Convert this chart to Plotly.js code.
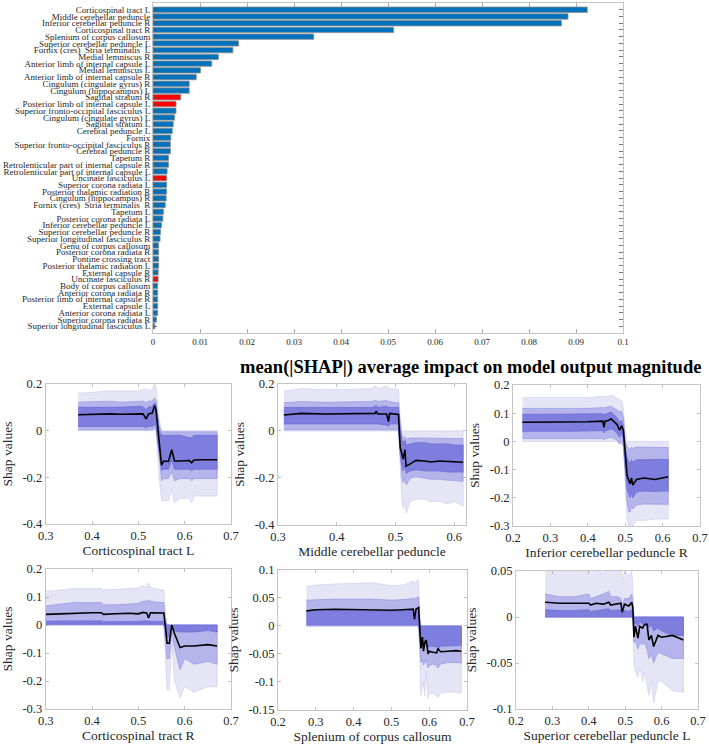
<!DOCTYPE html>
<html>
<head>
<meta charset="utf-8">
<script src="https://cdn.plot.ly/plotly-3.0.1.min.js"></script>
<style>html,body{margin:0;padding:0;background:#fff;}#chart{width:709px;height:744px;}</style>
</head>
<body>
<div id="chart"></div>
<script>
// ---------- Bar chart data ----------
const categories = [
  "Corticospinal tract L","Middle cerebellar peduncle","Inferior cerebellar peduncle R","Corticospinal tract R",
  "Splenium of corpus callosum","Superior cerebellar peduncle L","Fornix (cres)  Stria terminalis  L","Medial lemniscus R",
  "Anterior limb of internal capsule L","Medial lemniscus L","Anterior limb of internal capsule R","Cingulum (cingulate gyrus) R",
  "Cingulum (hippocampus) L","Sagittal stratum R","Posterior limb of internal capsule L","Superior fronto-occipital fasciculus L",
  "Cingulum (cingulate gyrus) L","Sagittal stratum L","Cerebral peduncle L","Fornix",
  "Superior fronto-occipital fasciculus R","Cerebral peduncle R","Tapetum R","Retrolenticular part of internal capsule R",
  "Retrolenticular part of internal capsule L","Uncinate fasciculus L","Superior corona radiata L","Posterior thalamic radiation R",
  "Cingulum (hippocampus) R","Fornix (cres)  Stria terminalis  R","Tapetum L","Posterior corona radiata L",
  "Inferior cerebellar peduncle L","Superior cerebellar peduncle R","Superior longitudinal fasciculus R","Genu of corpus callosum",
  "Posterior corona radiata R","Pontine crossing tract","Posterior thalamic radiation L","External capsule R",
  "Uncinate fasciculus R","Body of corpus callosum","Anterior corona radiata R","Posterior limb of internal capsule R",
  "External capsule L","Anterior corona radiata L","Superior corona radiata R","Superior longitudinal fasciculus L"
];
const meanAbsShap = [
  0.0924,0.0883,0.0869,0.0512,0.0342,0.0182,0.0170,0.0139,
  0.0125,0.0101,0.0092,0.0077,0.0077,0.0059,0.0049,0.0049,
  0.0046,0.0043,0.0041,0.0038,0.0037,0.0037,0.0033,0.0033,
  0.0030,0.0029,0.0029,0.0029,0.0028,0.0026,0.0022,0.0021,
  0.0018,0.0016,0.0015,0.0012,0.0012,0.0012,0.0012,0.0011,
  0.0011,0.0010,0.0010,0.0010,0.0010,0.0010,0.0007,0.0004
];
const highlighted = ["Sagittal stratum R","Posterior limb of internal capsule L","Uncinate fasciculus L","Uncinate fasciculus R"];
const barTicks = [0,0.01,0.02,0.03,0.04,0.05,0.06,0.07,0.08,0.09,0.1];
const mainTitle = "mean(|SHAP|) average impact on model output magnitude";

// ---------- Panel 1: Corticospinal tract L ----------
const p1Label = "Corticospinal tract L";
const p1X = [0.37,0.40,0.44,0.46,0.50,0.51,0.517,0.522,0.53,0.535,0.538,0.545,0.55,0.555,0.565,0.572,0.578,0.59,0.61,0.615,0.62,0.64,0.67];
const p1Mean = [0.068,0.070,0.072,0.070,0.074,0.072,0.050,0.072,0.075,0.108,0.090,-0.050,-0.148,-0.130,-0.132,-0.082,-0.130,-0.130,-0.128,-0.138,-0.126,-0.125,-0.125];
const p1LightHi = [0.160,0.165,0.170,0.170,0.170,0.175,0.180,0.170,0.175,0.200,0.190,0.050,0,0,0,0,0,0,0,0,0,0,0];
const p1LightLo = [0,0,0,0,0,0,0,0,0,0,0,-0.200,-0.300,-0.300,-0.300,-0.250,-0.310,-0.290,-0.290,-0.310,-0.280,-0.280,-0.280];
const p1MidHi = [0.122,0.124,0.126,0.122,0.126,0.126,0.120,0.126,0.126,0.140,0.130,0.020,-0.005,-0.005,-0.005,-0.005,-0.005,-0.005,-0.008,-0.008,-0.005,-0.005,-0.005];
const p1MidLo = [0.004,0.004,0.004,0.004,0.004,0.004,0.002,0.004,0.004,0.010,0.008,-0.100,-0.215,-0.205,-0.205,-0.175,-0.215,-0.205,-0.205,-0.215,-0.205,-0.205,-0.205];
const p1DarkHi = [0.100,0.100,0.102,0.100,0.105,0.102,0.090,0.102,0.102,0.120,0.110,0,-0.020,-0.020,-0.020,-0.020,-0.020,-0.020,-0.030,-0.030,-0.020,-0.020,-0.020];
const p1DarkLo = [0.018,0.018,0.018,0.015,0.018,0.018,0.012,0.018,0.018,0.025,0.022,-0.100,-0.170,-0.165,-0.165,-0.125,-0.165,-0.165,-0.165,-0.172,-0.165,-0.165,-0.165];

// ---------- Panel 2: Middle cerebellar peduncle ----------
const p2Label = "Middle cerebellar peduncle";
const p2X = [0.31,0.34,0.38,0.42,0.46,0.465,0.467,0.47,0.485,0.488,0.49,0.50,0.505,0.508,0.511,0.513,0.516,0.518,0.525,0.535,0.55,0.56,0.575,0.59,0.60,0.615];
const p2Mean = [0.068,0.075,0.072,0.072,0.072,0.075,0.082,0.072,0.072,0.040,0.075,0.070,0.070,-0.070,-0.100,-0.120,-0.080,-0.150,-0.140,-0.125,-0.128,-0.132,-0.128,-0.130,-0.132,-0.133];
const p2LightHi = [0.170,0.180,0.175,0.178,0.180,0.190,0.190,0.180,0.190,0.185,0.180,0.180,0.175,0.050,0,0,0,0,0,0,0,0,0,0,0,0];
const p2LightLo = [0,0,0,0,0,0,0,0,0,0,0,0,0,-0.150,-0.300,-0.330,-0.300,-0.350,-0.300,-0.290,-0.290,-0.300,-0.300,-0.310,-0.300,-0.320];
const p2MidHi = [0.120,0.125,0.122,0.122,0.125,0.130,0.130,0.125,0.130,0.125,0.125,0.120,0.120,0.030,-0.020,-0.030,-0.025,-0.035,-0.030,-0.030,-0.030,-0.030,-0.030,-0.030,-0.032,-0.032];
const p2MidLo = [0.005,0.005,0.005,0.005,0.005,0.005,0.005,0.005,0.005,0.002,0.005,0.005,0.005,-0.100,-0.200,-0.220,-0.200,-0.230,-0.200,-0.195,-0.200,-0.205,-0.205,-0.210,-0.210,-0.215];
const p2DarkHi = [0.100,0.100,0.100,0.100,0.100,0.105,0.110,0.100,0.105,0.100,0.100,0.100,0.100,0.010,-0.040,-0.050,-0.040,-0.060,-0.055,-0.050,-0.050,-0.055,-0.055,-0.055,-0.060,-0.060];
const p2DarkLo = [0.030,0.030,0.030,0.030,0.030,0.030,0.030,0.030,0.025,0.020,0.030,0.030,0.030,-0.100,-0.150,-0.170,-0.150,-0.180,-0.170,-0.165,-0.170,-0.170,-0.170,-0.175,-0.175,-0.175];

// ---------- Panel 3: Inferior cerebellar peduncle R ----------
const p3Label = "Inferior cerebellar peduncle R";
const p3X = [0.225,0.26,0.30,0.35,0.40,0.44,0.443,0.446,0.455,0.462,0.47,0.478,0.485,0.49,0.495,0.50,0.505,0.51,0.513,0.517,0.52,0.53,0.55,0.58,0.60,0.615];
const p3Mean = [0.068,0.068,0.069,0.070,0.070,0.072,0.050,0.072,0.074,0.080,0.070,0.060,0.040,0.055,0.040,-0.050,-0.120,-0.140,-0.150,-0.130,-0.155,-0.135,-0.130,-0.135,-0.128,-0.125];
const p3LightHi = [0.155,0.155,0.155,0.155,0.155,0.160,0.160,0.160,0.160,0.165,0.160,0.155,0.150,0.145,0.120,0.030,0,0,0,0,0,0,0,0,0,0];
const p3LightLo = [0,0,0,0,0,0,0,0,0,0,0,0,0,0,0,-0.150,-0.280,-0.300,-0.300,-0.290,-0.300,-0.280,-0.280,-0.275,-0.275,-0.275];
const p3MidHi = [0.117,0.117,0.117,0.117,0.117,0.120,0.118,0.120,0.122,0.125,0.118,0.112,0.105,0.108,0.085,0.000,-0.020,-0.025,-0.030,-0.020,-0.025,-0.020,-0.020,-0.022,-0.022,-0.022];
const p3MidLo = [0.010,0.010,0.010,0.010,0.010,0.010,0.005,0.010,0.012,0.015,0.010,0.005,-0.010,0.000,-0.020,-0.110,-0.220,-0.250,-0.250,-0.230,-0.240,-0.225,-0.222,-0.223,-0.223,-0.223];
const p3DarkHi = [0.096,0.096,0.096,0.096,0.096,0.098,0.090,0.098,0.100,0.105,0.095,0.085,0.065,0.075,0.055,-0.020,-0.060,-0.070,-0.080,-0.065,-0.075,-0.065,-0.064,-0.064,-0.064,-0.064];
const p3DarkLo = [0.036,0.036,0.036,0.036,0.036,0.038,0.030,0.038,0.040,0.045,0.040,0.030,0.015,0.030,0.010,-0.090,-0.170,-0.190,-0.200,-0.180,-0.200,-0.180,-0.176,-0.178,-0.176,-0.176];

// ---------- Panel 4: Corticospinal tract R ----------
const p4Label = "Corticospinal tract R";
const p4X = [0.30,0.33,0.36,0.40,0.42,0.425,0.45,0.48,0.50,0.51,0.518,0.522,0.526,0.535,0.545,0.555,0.558,0.562,0.567,0.572,0.578,0.59,0.60,0.62,0.65,0.67];
const p4Mean = [0.038,0.040,0.043,0.044,0.044,0.038,0.040,0.042,0.040,0.045,0.043,0.025,0.044,0.044,0.043,0.043,0.000,-0.065,-0.065,0.000,-0.030,-0.080,-0.075,-0.075,-0.070,-0.075];
const p4LightHi = [0.120,0.125,0.130,0.130,0.130,0.125,0.128,0.130,0.132,0.140,0.135,0.150,0.135,0.130,0.128,0.125,0.050,0,0,0,0,0,0,0,0,0];
const p4LightLo = [0,0,0,0,0,0,0,0,0,0,0,0,0,0,0,0,-0.100,-0.230,-0.230,-0.050,-0.200,-0.260,-0.220,-0.240,-0.220,-0.220];
const p4MidHi = [0.068,0.075,0.080,0.080,0.080,0.072,0.072,0.075,0.078,0.085,0.085,0.090,0.085,0.082,0.080,0.080,0.020,0,0,0,0,0,0,0,0,0];
const p4MidLo = [0,0,0,0,0,0,0,0,0,0,0,0,0,0,0,0,-0.050,-0.120,-0.120,-0.020,-0.080,-0.160,-0.120,-0.140,-0.130,-0.140];
const p4DarkHi = [0.014,0.014,0.015,0.015,0.015,0.012,0.012,0.012,0.013,0.015,0.014,0.012,0.014,0.013,0.013,0.013,0,0,0,0,0,0,0,0,0,0];
const p4DarkLo = [0.003,0.003,0.003,0.003,0.003,0.003,0.003,0.003,0.003,0.003,0.003,0.003,0.003,0.003,0.003,0.003,-0.010,-0.040,-0.040,-0.005,-0.020,-0.025,-0.025,-0.025,-0.020,-0.025];

// ---------- Panel 5: Splenium of corpus callosum ----------
const p5Label = "Splenium of corpus callosum";
const p5X = [0.275,0.30,0.35,0.40,0.45,0.50,0.53,0.55,0.558,0.561,0.565,0.572,0.575,0.578,0.582,0.585,0.588,0.592,0.597,0.60,0.61,0.62,0.623,0.63,0.65,0.67,0.685];
const p5Mean = [0.027,0.029,0.030,0.029,0.029,0.028,0.029,0.030,0.030,0.012,0.030,0.033,0.000,-0.040,-0.020,-0.045,-0.030,-0.025,-0.050,-0.045,-0.047,-0.048,-0.040,-0.046,-0.045,-0.044,-0.045];
const p5LightHi = [0.070,0.073,0.075,0.076,0.077,0.072,0.073,0.078,0.080,0.075,0.080,0.082,0.020,0,0,0,0,0,0,0,0,0,0,0,0,0,0];
const p5LightLo = [0,0,0,0,0,0,0,0,0,0,0,0,-0.060,-0.125,-0.110,-0.100,-0.125,-0.080,-0.130,-0.120,-0.120,-0.125,-0.128,-0.120,-0.118,-0.118,-0.120];
const p5MidHi = [0.046,0.047,0.048,0.048,0.048,0.046,0.047,0.048,0.050,0.048,0.050,0.052,0.010,0,0,0,0,0,0,0,0,0,0,0,0,0,0];
const p5MidLo = [0,0,0,0,0,0,0,0,0,0,0,0,-0.030,-0.065,-0.060,-0.070,-0.065,-0.060,-0.075,-0.070,-0.068,-0.070,-0.075,-0.068,-0.065,-0.065,-0.066];
const p5DarkHi = [0.027,0.028,0.028,0.027,0.027,0.026,0.027,0.028,0.028,0.015,0.028,0.030,0,0,0,0,0,0,0,0,0,0,0,0,0,0,0];
const p5DarkLo = [0.002,0.002,0.002,0.002,0.002,0.002,0.002,0.002,0.002,0.002,0.002,0.002,-0.015,-0.035,-0.030,-0.040,-0.035,-0.030,-0.040,-0.036,-0.036,-0.038,-0.040,-0.036,-0.035,-0.035,-0.035];

// ---------- Panel 6: Superior cerebellar peduncle L ----------
const p6Label = "Superior cerebellar peduncle L";
const p6X = [0.28,0.32,0.36,0.40,0.405,0.42,0.44,0.455,0.46,0.48,0.488,0.492,0.498,0.51,0.518,0.521,0.524,0.528,0.535,0.54,0.548,0.553,0.56,0.565,0.572,0.578,0.59,0.60,0.63,0.66];
const p6Mean = [0.016,0.015,0.015,0.015,0.013,0.015,0.014,0.016,0.013,0.015,0.015,0.005,0.014,0.012,0.016,0.010,-0.022,-0.010,-0.023,-0.010,-0.012,-0.008,-0.008,-0.025,-0.020,-0.032,-0.020,-0.022,-0.020,-0.025];
const p6LightHi = [0.056,0.053,0.052,0.050,0.052,0.050,0.048,0.053,0.050,0.052,0.053,0.040,0.050,0.045,0.050,0.030,0,0,0,0,0,0,0,0,0,0,0,0,0,0];
const p6LightLo = [0,0,0,0,0,0,0,0,0,0,0,0,0,0,0,0,-0.050,-0.060,-0.065,-0.055,-0.070,-0.060,-0.075,-0.085,-0.070,-0.093,-0.070,-0.070,-0.080,-0.082];
const p6MidHi = [0.025,0.022,0.022,0.025,0.020,0.022,0.025,0.028,0.022,0.022,0.020,0.012,0.020,0.020,0.025,0.015,0,0,0,0,0,0,0,0,0,0,0,0,0,0];
const p6MidLo = [0,0,0,0,0,0,0,0,0,0,0,0,0,0,0,0,-0.028,-0.025,-0.035,-0.028,-0.030,-0.028,-0.035,-0.045,-0.040,-0.050,-0.038,-0.040,-0.045,-0.045];
const p6DarkHi = [0.008,0.007,0.007,0.008,0.006,0.007,0.008,0.009,0.007,0.008,0.008,0.002,0.007,0.006,0.008,0.005,0,0,0,0,0,0,0,0,0,0,0,0,0,0];
const p6DarkLo = [0,0,0,0,0,0,0,0,0,0,0,0,0,0,0,0,-0.008,-0.006,-0.010,-0.005,-0.008,-0.005,-0.010,-0.012,-0.008,-0.015,-0.012,-0.015,-0.020,-0.020];

// ---------- Panel axis ticks ----------
const p1XTicks = [0.3,0.4,0.5,0.6,0.7], p1YTicks = [-0.4,-0.2,0,0.2];
const p2XTicks = [0.3,0.4,0.5,0.6],     p2YTicks = [-0.4,-0.2,0,0.2];
const p3XTicks = [0.2,0.3,0.4,0.5,0.6,0.7], p3YTicks = [-0.3,-0.2,-0.1,0,0.1,0.2];
const p4XTicks = [0.3,0.4,0.5,0.6,0.7], p4YTicks = [-0.3,-0.2,-0.1,0,0.1,0.2];
const p5XTicks = [0.2,0.3,0.4,0.5,0.6,0.7], p5YTicks = [-0.15,-0.1,-0.05,0,0.05,0.1];
const p6XTicks = [0.2,0.3,0.4,0.5,0.6,0.7], p6YTicks = [-0.1,-0.05,0,0.05];

// ---------- Build figure ----------
const SERIF = "Liberation Serif, Times New Roman, serif";
const TXT = "#262626";
const FRAME = "#c4c4c4";
const traces = [];

traces.push({
  type: "bar", orientation: "h",
  x: meanAbsShap,
  y: categories.map((c, i) => i),
  width: 0.8,
  marker: {
    color: categories.map(c => highlighted.includes(c) ? "#ff0000" : "#0072bd"),
    line: {color: "#8c8c8c", width: 0.8}
  },
  hoverinfo: "skip", xaxis: "x", yaxis: "y"
});

function band(x, lo, hi, fill, edge, ax) {
  return {
    type: "scatter", mode: "lines",
    x: x.concat(x.slice().reverse()),
    y: hi.concat(lo.slice().reverse()),
    fill: "toself", fillcolor: fill,
    line: {color: edge, width: 0.7},
    hoverinfo: "skip", xaxis: "x" + ax, yaxis: "y" + ax
  };
}

const panels = [
  {ax: 2, x: p1X, m: p1Mean, lL: p1LightLo, lH: p1LightHi, mL: p1MidLo, mH: p1MidHi, dL: p1DarkLo, dH: p1DarkHi, label: p1Label, xt: p1XTicks, yt: p1YTicks, xr: [0.3,0.7], yr: [-0.4,0.2], xd: [0.0645,0.3258], yd: [0.2957,0.4839]},
  {ax: 3, x: p2X, m: p2Mean, lL: p2LightLo, lH: p2LightHi, mL: p2MidLo, mH: p2MidHi, dL: p2DarkLo, dH: p2DarkHi, label: p2Label, xt: p2XTicks, yt: p2YTicks, xr: [0.3,0.62], yr: [-0.4,0.2], xd: [0.3921,0.6573], yd: [0.2944,0.4839]},
  {ax: 4, x: p3X, m: p3Mean, lL: p3LightLo, lH: p3LightHi, mL: p3MidLo, mH: p3MidHi, dL: p3DarkLo, dH: p3DarkHi, label: p3Label, xt: p3XTicks, yt: p3YTicks, xr: [0.2,0.7], yr: [-0.3,0.2], xd: [0.7236,0.9873], yd: [0.2930,0.4825]},
  {ax: 5, x: p4X, m: p4Mean, lL: p4LightLo, lH: p4LightHi, mL: p4MidLo, mH: p4MidHi, dL: p4DarkLo, dH: p4DarkHi, label: p4Label, xt: p4XTicks, yt: p4YTicks, xr: [0.3,0.7], yr: [-0.3,0.2], xd: [0.0645,0.3258], yd: [0.0470,0.2352]},
  {ax: 6, x: p5X, m: p5Mean, lL: p5LightLo, lH: p5LightHi, mL: p5MidLo, mH: p5MidHi, dL: p5DarkLo, dH: p5DarkHi, label: p5Label, xt: p5XTicks, yt: p5YTicks, xr: [0.2,0.7], yr: [-0.15,0.1], xd: [0.3921,0.6587], yd: [0.0457,0.2339]},
  {ax: 7, x: p6X, m: p6Mean, lL: p6LightLo, lH: p6LightHi, mL: p6MidLo, mH: p6MidHi, dL: p6DarkLo, dH: p6DarkHi, label: p6Label, xt: p6XTicks, yt: p6YTicks, xr: [0.2,0.7], yr: [-0.1,0.05], xd: [0.7278,0.9845], yd: [0.0470,0.2325]}
];

const layout = {
  width: 709, height: 744,
  margin: {l: 0, r: 0, t: 0, b: 0},
  paper_bgcolor: "#ffffff", plot_bgcolor: "#ffffff",
  showlegend: false,
  font: {family: SERIF, color: TXT},
  xaxis: {
    domain: [0.2158, 0.8787], anchor: "y", range: [0, 0.1],
    tickmode: "array", tickvals: barTicks, ticktext: barTicks.map(String),
    ticks: "inside", ticklen: 4, tickwidth: 0.8, tickcolor: "#9a9a9a",
    mirror: "allticks", showline: true, linecolor: FRAME, linewidth: 1,
    showgrid: false, zeroline: false, tickfont: {size: 9, family: SERIF, color: TXT}, automargin: false
  },
  yaxis: {
    domain: [0.5524, 0.9960], anchor: "x", range: [48, -1],
    tickmode: "array", tickvals: categories.map((c, i) => i), ticktext: categories,
    ticks: "inside", ticklen: 4, tickwidth: 0.8, tickcolor: "#555555",
    mirror: "allticks", showline: true, linecolor: FRAME, linewidth: 1,
    showgrid: false, zeroline: false, tickfont: {size: 9, family: SERIF, color: TXT}, automargin: false
  },
  annotations: [{
    text: "<b>" + mainTitle + "</b>",
    xref: "paper", yref: "paper", x: 0.663, y: 0.5067,
    xanchor: "center", yanchor: "middle", showarrow: false,
    font: {family: SERIF, size: 18.5, color: "#000000"}
  }]
};

panels.forEach(p => {
  traces.push(band(p.x, p.lL, p.lH, "rgb(229,229,245)", "rgb(208,208,238)", p.ax));
  traces.push(band(p.x, p.mL, p.mH, "rgb(181,181,236)", "rgb(150,150,228)", p.ax));
  traces.push(band(p.x, p.dL, p.dH, "rgb(126,126,222)", "rgb(105,105,215)", p.ax));
  traces.push({
    type: "scatter", mode: "lines", x: p.x, y: p.m,
    line: {color: "#000000", width: 1.6},
    hoverinfo: "skip", xaxis: "x" + p.ax, yaxis: "y" + p.ax
  });
  layout["xaxis" + p.ax] = {
    domain: p.xd, anchor: "y" + p.ax, range: p.xr,
    tickmode: "array", tickvals: p.xt, ticktext: p.xt.map(String),
    ticks: "inside", ticklen: 3, tickwidth: 0.8, tickcolor: "#b0b0b0",
    mirror: "ticks", showline: true, linecolor: FRAME, linewidth: 1,
    showgrid: false, zeroline: false, automargin: false,
    tickfont: {size: 12.5, family: SERIF, color: TXT},
    title: {text: p.label, font: {size: 13.5, family: SERIF, color: TXT}, standoff: 2}
  };
  layout["yaxis" + p.ax] = {
    domain: p.yd, anchor: "x" + p.ax, range: p.yr,
    tickmode: "array", tickvals: p.yt, ticktext: p.yt.map(String),
    ticks: "inside", ticklen: 3, tickwidth: 0.8, tickcolor: "#b0b0b0",
    mirror: "ticks", showline: true, linecolor: FRAME, linewidth: 1,
    showgrid: false, zeroline: false, automargin: false,
    tickfont: {size: 12.5, family: SERIF, color: TXT},
    title: {text: "Shap values", font: {size: 13.5, family: SERIF, color: TXT}, standoff: 6}
  };
});

Plotly.newPlot("chart", traces, layout, {staticPlot: true, displayModeBar: false});
</script>
</body>
</html>
